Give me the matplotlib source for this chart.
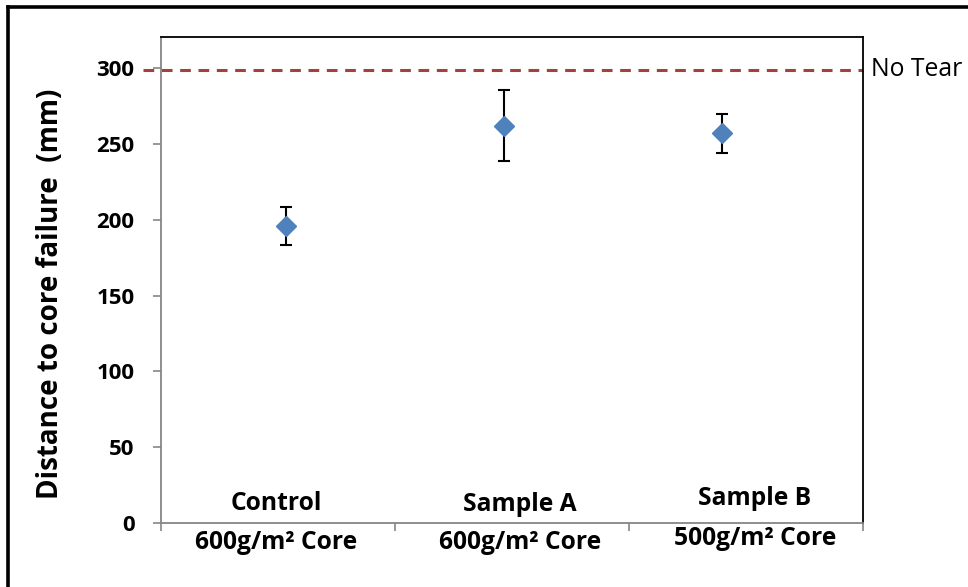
import matplotlib.pyplot as plt
from matplotlib.lines import Line2D

# data
samples = ["Control", "Sample A", "Sample B"]
cores = ["600g/m\u00b2 Core", "600g/m\u00b2 Core", "500g/m\u00b2 Core"]
x_pos = [1, 2, 3]
distance = [196, 262, 257]
err = [12.7, 23.6, 13]
no_tear = 299

plt.rcParams["font.family"] = ["Open Sans", "DejaVu Sans"]

fig = plt.figure(figsize=(9.68, 5.87), dpi=100)
ax = fig.add_axes([0.1663, 0.109, 0.7252, 0.828])

ax.errorbar(x_pos, distance, yerr=err, fmt="none", ecolor="black",
            elinewidth=1.5, capsize=4.5, capthick=1.5, zorder=2)
ax.plot(x_pos, distance, linestyle="none", marker="D", markersize=10,
        color="#4F81BD", zorder=3)

ax.axhline(no_tear, xmin=-0.025, xmax=1, color="#A5403D", lw=2.2,
           dashes=(3.5, 2.5), clip_on=False, zorder=1)
ax.text(1.012, no_tear, "No Tear", transform=ax.get_yaxis_transform(),
        fontsize=17.8, va="center", ha="left")

ax.set_xlim(0.427, 3.647)
ax.set_ylim(0, 320.5)
ax.set_yticks(range(0, 301, 50))
ax.set_yticklabels([str(v) for v in range(0, 301, 50)],
                   fontsize=16, fontweight="bold")
x0, x1 = ax.get_xlim()
ax.set_xticks([x0 + (x1 - x0) * i / 3 for i in range(4)])
ax.set_xticklabels([])

ax.tick_params(axis="y", direction="out", length=6, width=1.2,
               color="#868686", pad=13)
ax.tick_params(axis="x", direction="out", length=6, width=1.2,
               color="#868686")

for side in ["left", "bottom"]:
    ax.spines[side].set_color("#868686")
    ax.spines[side].set_linewidth(1.3)
for side in ["top", "right"]:
    ax.spines[side].set_color("black")
    ax.spines[side].set_linewidth(1.3)

# two-line category labels straddling the x axis
label_x = [0.164, 0.511, 0.846]
top_dy = [0.04, 0.038, 0.05]
bot_dy = [-0.04, -0.04, -0.032]
for i in range(len(samples)):
    ax.text(label_x[i], top_dy[i], samples[i], transform=ax.transAxes,
            ha="center", va="center", fontsize=17.7, fontweight="bold")
    ax.text(label_x[i], bot_dy[i], cores[i], transform=ax.transAxes,
            ha="center", va="center", fontsize=17.7, fontweight="bold")

fig.text(0.052, 0.5, "Distance to core failure  (mm)", rotation=90,
         ha="center", va="center", fontsize=20, fontweight="bold")

# outer frame (left and top edges)
fig.add_artist(Line2D([0.0083, 0.0083], [0, 0.988], transform=fig.transFigure,
                      color="black", lw=2.6))
fig.add_artist(Line2D([0.0083, 1], [0.988, 0.988], transform=fig.transFigure,
                      color="black", lw=2.6))

fig.savefig("out.png", dpi=100)
